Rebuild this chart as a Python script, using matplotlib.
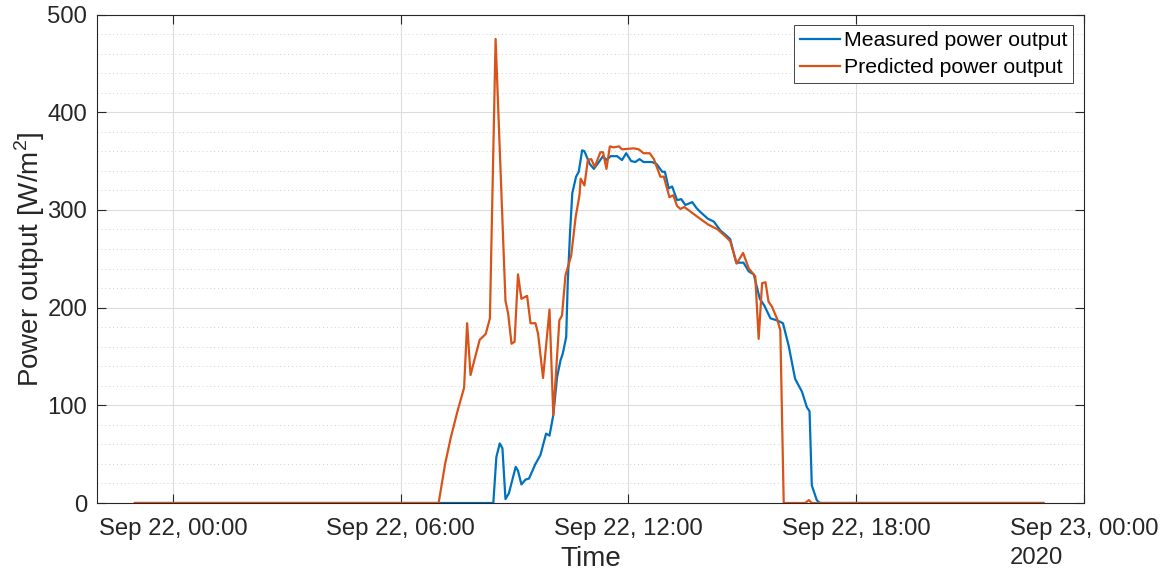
import matplotlib
matplotlib.use("Agg")
import matplotlib.pyplot as plt
from matplotlib.ticker import MultipleLocator
import pandas as pd

# hours relative to Sep 22 2020, 00:00
meas_hours = [-1.0, 8.44, 8.52, 8.61, 8.68, 8.76, 8.85, 9.03, 9.09, 9.18, 9.29, 9.38,
              9.55, 9.68, 9.83, 9.92, 10.02, 10.12, 10.21, 10.27, 10.36, 10.40, 10.46,
              10.52, 10.62, 10.69, 10.78, 10.84, 10.98, 11.09, 11.22, 11.33, 11.42,
              11.53, 11.70, 11.83, 11.94, 12.07, 12.18, 12.29, 12.40, 12.62, 12.74,
              12.89, 12.96, 13.06, 13.15, 13.28, 13.39, 13.50, 13.68, 13.79, 13.89,
              14.09, 14.25, 14.42, 14.60, 14.68, 14.84, 15.03, 15.17, 15.30, 15.46,
              15.58, 15.74, 15.91, 16.07, 16.22, 16.39, 16.57, 16.70, 16.77, 16.83,
              16.96, 17.04, 22.93]
meas_power = [0, 0, 47, 61, 56, 4, 10, 37, 33, 19, 24, 25,
              40, 49, 71, 69, 90, 129, 146, 153, 170, 225, 276,
              317, 334, 339, 361, 360, 347, 342, 349, 355, 351,
              355, 355, 351, 358, 350, 349, 352, 349, 349, 347,
              339, 339, 322, 324, 310, 311, 305, 308, 302, 298,
              291, 288, 279, 273, 270, 246, 246, 237, 234, 209,
              202, 189, 187, 184, 161, 127, 114, 98, 94, 18,
              3, 0, 0]

pred_hours = [-1.0, 7.00, 7.17, 7.32, 7.49, 7.67, 7.75, 7.84, 8.08, 8.24, 8.35, 8.50,
              8.76, 8.83, 8.92, 9.00, 9.09, 9.18, 9.33, 9.42, 9.55, 9.62, 9.75,
              9.92, 10.02, 10.18, 10.25, 10.34, 10.49, 10.61, 10.71, 10.74, 10.84,
              10.93, 11.02, 11.11, 11.26, 11.33, 11.42, 11.51, 11.61, 11.75, 11.83,
              12.14, 12.27, 12.40, 12.56, 12.67, 12.84, 12.93, 13.08, 13.18, 13.28,
              13.37, 13.47, 13.85, 14.10, 14.35, 14.55, 14.68, 14.85, 15.02, 15.17,
              15.34, 15.43, 15.52, 15.61, 15.69, 15.78, 15.91, 16.00, 16.09, 16.66,
              16.75, 16.83, 22.93]
pred_power = [0, 0, 40, 67, 93, 118, 184, 131, 167, 173, 189, 475,
              207, 194, 163, 165, 234, 209, 212, 184, 184, 173, 128,
              198, 90, 187, 192, 233, 253, 293, 315, 332, 325,
              351, 352, 344, 359, 359, 342, 365, 364, 365, 362,
              363, 362, 358, 358, 352, 334, 334, 313, 315, 304,
              301, 303, 292, 285, 280, 273, 268, 245, 256, 240,
              232, 168, 225, 226, 206, 201, 189, 177, 0, 0,
              3, 0, 0]

tick_hours = [0, 6, 12, 18, 24]
tick_labels = ["Sep 22, 00:00", "Sep 22, 06:00", "Sep 22, 12:00", "Sep 22, 18:00",
               "Sep 23, 00:00\n2020"]

base = pd.Timestamp("2020-09-22")


def to_time(hours):
    return base + pd.to_timedelta(hours, unit="h")


plt.rcParams["font.family"] = ["Liberation Sans", "DejaVu Sans"]
plt.rcParams["mathtext.fontset"] = "custom"
plt.rcParams["mathtext.rm"] = "Liberation Sans"

dark = "#262626"
fig = plt.figure(figsize=(11.66, 5.71), dpi=100)
ax = fig.add_axes([97 / 1166, 1 - 503 / 571, (1084 - 97) / 1166, (503 - 14.5) / 571])

ax.plot(to_time(meas_hours), meas_power, color="#0072BD", lw=1.6, label="Measured power output")
ax.plot(to_time(pred_hours), pred_power, color="#D95319", lw=1.6, label="Predicted power output")

ax.set_xlim(to_time(-2), to_time(24))
ax.set_ylim(0, 500)
ax.set_xticks(to_time(tick_hours))
ax.set_xticklabels(tick_labels)
for lab in ax.get_xticklabels():
    lab.set_multialignment("left")
    lab.set_linespacing(1.45)
ax.yaxis.set_major_locator(MultipleLocator(100))
ax.yaxis.set_minor_locator(MultipleLocator(20))

ax.grid(True, which="major", color="#dcdcdc", lw=0.8)
ax.grid(True, which="minor", axis="y", color="#d0d0d0", lw=0.7, ls=(0, (1, 3)))
ax.set_axisbelow(True)

ax.tick_params(which="major", direction="in", length=6.5, width=0.8, color=dark,
               top=True, right=True, labelsize=17.2, labelcolor=dark)
ax.tick_params(axis="x", pad=10.5)
ax.tick_params(axis="y", pad=7)
ax.tick_params(which="minor", length=0, left=False, right=False)
for s in ax.spines.values():
    s.set_color(dark)
    s.set_linewidth(0.8)

ax.set_xlabel("Time", fontsize=20, color=dark)
ax.xaxis.set_label_coords(0.5, -0.088)
ax.set_ylabel("Power output [W/m$^2$]", fontsize=20, color=dark, labelpad=0)

leg = ax.legend(loc="upper right", fontsize=15.3, fancybox=False, framealpha=1,
                edgecolor=dark, handlelength=1.86, handletextpad=0.2,
                labelspacing=0.37, borderpad=0.28, borderaxespad=0.5)
leg.get_frame().set_linewidth(0.6)

fig.savefig("out.png", dpi=100)
